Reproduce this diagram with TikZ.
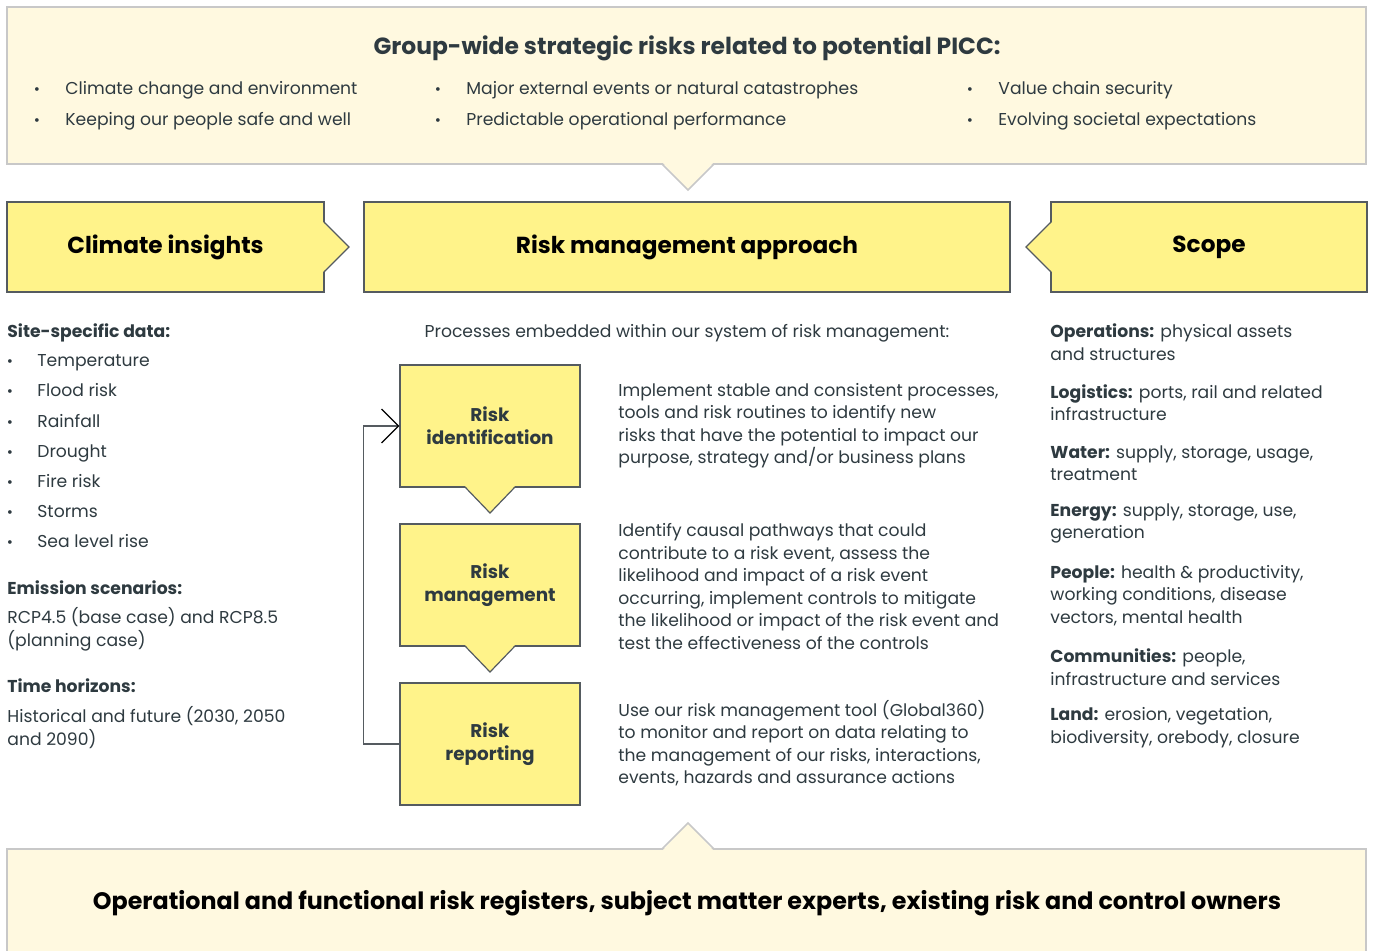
\documentclass[tikz,border=0pt]{standalone}
\usepackage{fontspec}
\setmainfont{Poppins}
\usetikzlibrary{arrows.meta, positioning}
\definecolor{slate}{RGB}{46,58,64}
\definecolor{hiyellow}{RGB}{255,243,138}
\definecolor{paleyellow}{RGB}{255,249,224}
\definecolor{boxframe}{RGB}{85,91,96}
\definecolor{paleframe}{RGB}{200,200,200}

\begin{document}
\begin{tikzpicture}[x=0.5pt, y=-0.5pt,
  panel/.style={draw=paleframe, fill=paleyellow, line width=0.75pt, inner sep=0pt, minimum width=679.5pt},
  headbox/.style={draw=boxframe, fill=hiyellow, line width=0.6pt, inner sep=0pt, minimum height=45pt, text=black, font=\fontsize{11.6}{13}\selectfont\bfseries},
  riskbox/.style={draw=boxframe, fill=hiyellow, line width=0.6pt, inner sep=0pt, minimum width=90pt, minimum height=61pt, align=center, text=slate, font=\fontsize{9.2}{11.5}\selectfont\bfseries},
  body/.style={text=slate, font=\fontsize{8.6}{11.25}\selectfont, inner sep=0pt, anchor=west, align=left},
  item/.style={text=slate, font=\fontsize{8.6}{11.25}\selectfont, inner sep=0pt, anchor=base west},
  label/.style={text=slate, font=\fontsize{8.6}{11.25}\selectfont\bfseries, inner sep=0pt, anchor=base west},
  dot/.style={text=slate, font=\fontsize{7.5}{9}\selectfont, inner sep=0pt, anchor=base},
  feedback/.style={draw=boxframe, line width=0.75pt, -{Straight Barb[length=8.5pt, width=17pt, line width=0.6pt, color=black]}}
]
  \useasboundingbox (0,0) rectangle (1375,950);

  % top panel
  \node[panel, minimum height=78.5pt] (riskpanel) at (686.5,85.5) {};
  \fill[paleyellow] (662,162) -- (714,162) -- (688,190) -- cycle;
  \draw[paleframe, line width=0.75pt] (662,164) -- (688,190) -- (714,164);
  \node[text=slate, font=\fontsize{11.7}{13}\selectfont\bfseries, inner sep=0pt, anchor=base] (picctitle) at (687,54) {Group-wide strategic risks related to potential PICC:};
  \foreach \bx/\by/\txt [count=\i] in {37/89/Climate change and environment, 37/120/Keeping our people safe and well,
    438/89/Major external events or natural catastrophes, 438/120/Predictable operational performance,
    970/89/Value chain security, 970/120/Evolving societal expectations} {
    \node[dot] (piccdot\i) at (\bx,\by+5) {\textbullet};
    \node[item] (picctext\i) at (\bx+28,\by+5) {\txt};
  }

  % heading boxes
  \node[headbox, minimum width=158.5pt] (insights) at (165.5,247) {Climate insights};
  \fill[hiyellow] (323,222) -- (349,247) -- (323,272) -- cycle;
  \draw[boxframe, line width=0.6pt] (324,222) -- (349,247) -- (324,272);
  \node[headbox, minimum width=323pt] (approach) at (687,247) {Risk management approach};
  \node[headbox, minimum width=158pt] (scope) at (1209,247) {Scope};
  \fill[hiyellow] (1052,222) -- (1026,247) -- (1052,272) -- cycle;
  \draw[boxframe, line width=0.6pt] (1051,222) -- (1026,247) -- (1051,272);

  % climate insights column
  \node[label] (sitedata) at (7,337) {Site-specific data:};
  \foreach \by/\txt [count=\i] in {361/Temperature, 391/Flood risk, 422/Rainfall, 452/Drought, 482/Fire risk, 512/Storms, 542/Sea level rise} {
    \node[dot] (sitedot\i) at (10,\by+5) {\textbullet};
    \node[item] (sitetext\i) at (37,\by+5) {\txt};
  }
  \node[label] (emission) at (7,594) {Emission scenarios:};
  \node[body] (rcp) at (7,629.5) {RCP4.5 (base case) and RCP8.5\\(planning case)};
  \node[label] (horizons) at (7,692) {Time horizons:};
  \node[body] (years) at (7,727.5) {Historical and future (2030, 2050\\and 2090)};

  % risk management column
  \node[item, anchor=base] (processes) at (687,337) {Processes embedded within our system of risk management:};
  \node[riskbox] (riskid) at (490,426) {Risk\\identification};
  \fill[hiyellow] (465,486) -- (515,486) -- (490,513) -- cycle;
  \draw[boxframe, line width=0.6pt] (465,487) -- (490,513) -- (515,487);
  \node[riskbox] (riskmgmt) at (490,585) {Risk\\management};
  \fill[hiyellow] (465,645) -- (515,645) -- (490,672) -- cycle;
  \draw[boxframe, line width=0.6pt] (465,646) -- (490,672) -- (515,646);
  \node[riskbox] (riskrep) at (490,744) {Risk\\reporting};
  \draw[feedback] (riskrep.west) -- ++(-36,0) |- (riskid.west);

  \node[body] (iddesc) at (618,426) {Implement stable and consistent processes,\\tools and risk routines to identify new\\risks that have the potential to impact our\\purpose, strategy and/or business plans};
  \node[body] (mgmtdesc) at (618,586.5) {Identify causal pathways that could\\contribute to a risk event, assess the\\likelihood and impact of a risk event\\occurring, implement controls to mitigate\\the likelihood or impact of the risk event and\\test the effectiveness of the controls};
  \node[body] (repdesc) at (618,743) {Use our risk management tool (Global360)\\to monitor and report on data relating to\\the management of our risks, interactions,\\events, hazards and assurance actions};

  % scope column
  \node[body] (operations) at (1050,342) {\textbf{Operations:} physical assets\\and structures};
  \node[body] (logistics) at (1050,402.5) {\textbf{Logistics:} ports, rail and related\\infrastructure};
  \node[body] (water) at (1050,463) {\textbf{Water:} supply, storage, usage,\\treatment};
  \node[body] (energy) at (1050,523.5) {\textbf{Energy:} supply, storage, use,\\generation};
  \node[body] (people) at (1050,595.5) {\textbf{People:} health \& productivity,\\working conditions, disease\\vectors, mental health};
  \node[body] (communities) at (1050,667) {\textbf{Communities:} people,\\infrastructure and services};
  \node[body] (land) at (1050,727.5) {\textbf{Land:} erosion, vegetation,\\biodiversity, orebody, closure};

  % bottom panel
  \node[panel, minimum height=55.5pt] (registers) at (686.5,904.5) {};
  \fill[paleyellow] (662,851) -- (714,851) -- (688,823) -- cycle;
  \draw[paleframe, line width=0.75pt] (662,849) -- (688,823) -- (714,849);
  \node[text=black, font=\fontsize{11.9}{13}\selectfont\bfseries, inner sep=0pt, anchor=base] (ownertext) at (687,909) {Operational and functional risk registers, subject matter experts, existing risk and control owners};
\end{tikzpicture}
\end{document}
